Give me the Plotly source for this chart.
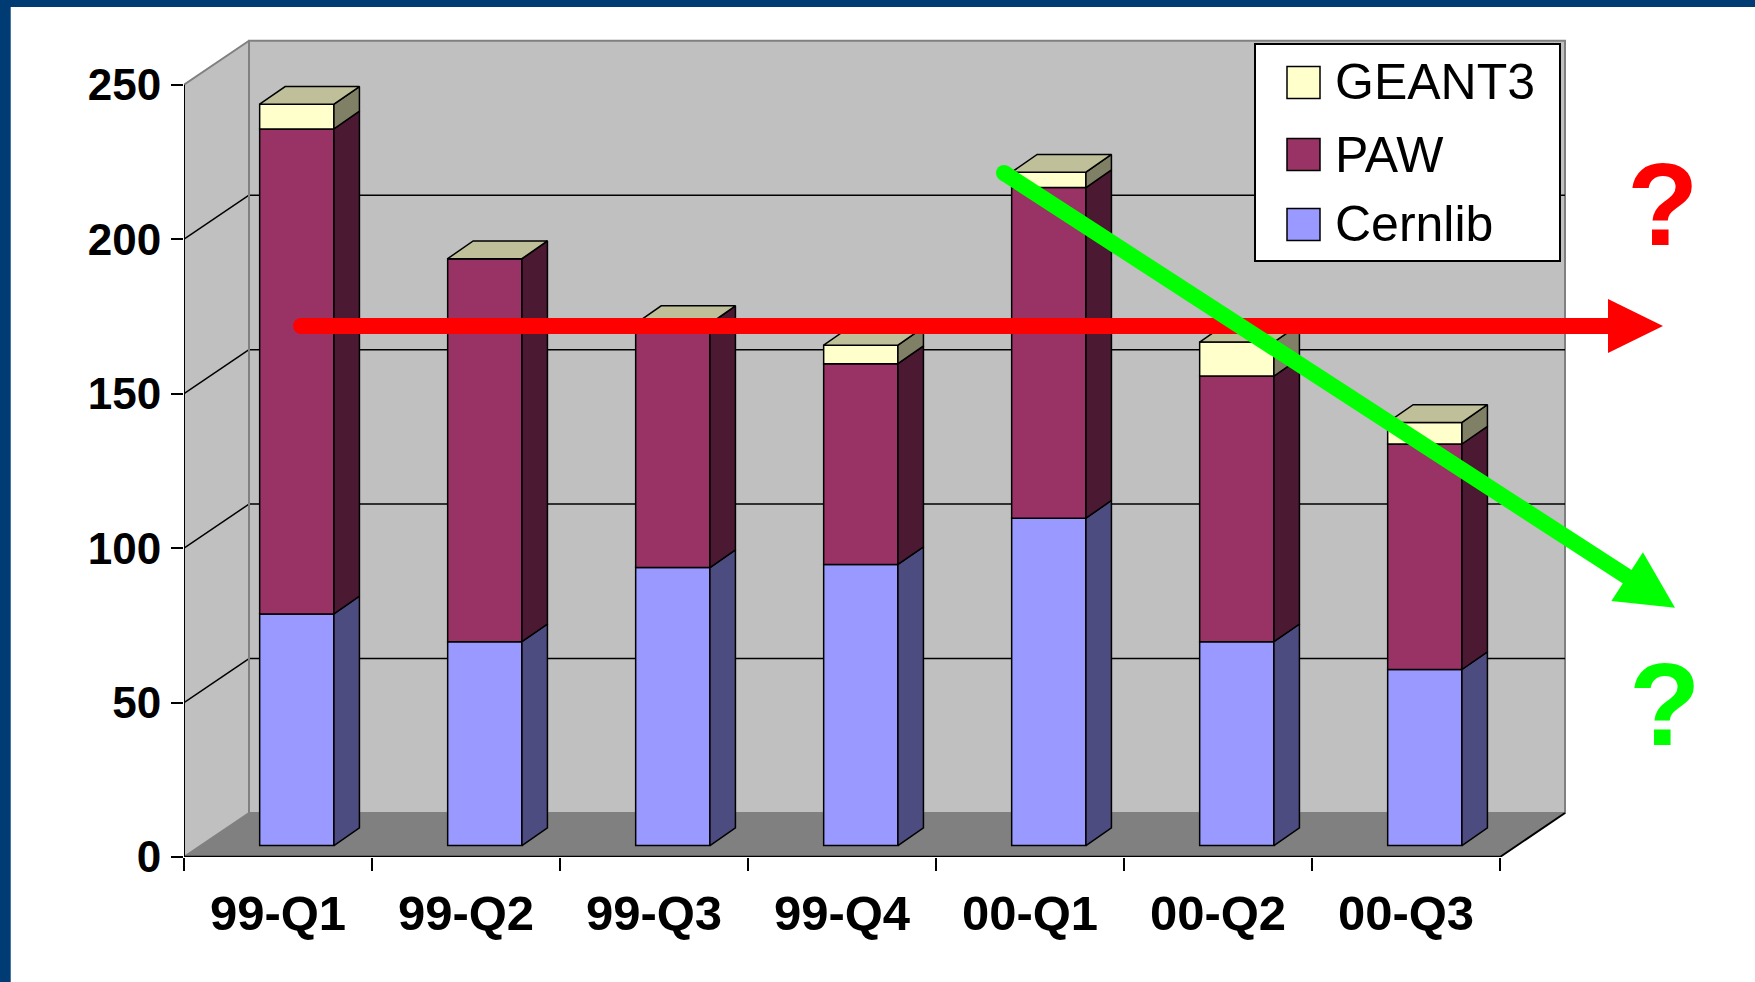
import plotly.graph_objects as go

# ---------------- data ----------------
categories = ["99-Q1", "99-Q2", "99-Q3", "99-Q4", "00-Q1", "00-Q2", "00-Q3"]
cernlib = [75, 66, 90, 91, 106, 66, 57]
paw = [157, 124, 79, 65, 107, 86, 73]
geant3 = [8, 0, 0, 6, 5, 11, 7]
series_names = ["Cernlib", "PAW", "GEANT3"]
y_ticks = [0, 50, 100, 150, 200, 250]

# ---------------- styles ----------------
front_col = {"Cernlib": "#9999FF", "PAW": "#993366", "GEANT3": "#FFFFCC"}
side_col = {"Cernlib": "#4C4C80", "PAW": "#4C1933", "GEANT3": "#808066"}
top_col = "#BFBF99"
wall_col = "#C0C0C0"
floor_col = "#808080"
edge_col = "#808080"
border_blue = "#003B73"
FONT = "Liberation Sans"

W, H = 1755, 982
ML, MT = 184, 30
PW, PH = 1391, 827
MR = W - ML - PW
MB = H - MT - PH
PX_CAT = 188.0     # pixels per category
PX_UNIT = 3.089    # pixels per value unit
xr = [-0.5, -0.5 + PW / PX_CAT]
yr = [0, PH / PX_UNIT]

DX = 65 / PX_CAT        # wall depth (category units)
DY = 44 / PX_UNIT       # wall depth (value units)
BAR_SHIFT = 0.10        # bar front offset into depth
BAR_BASE = 3.7
BW = 0.395
DDX = 25.5 / PX_CAT     # bar depth
DDY = 17.7 / PX_UNIT


def px_x(p):
    return (p - ML) / PW


def px_y(p):
    return (MT + PH - p) / PH


values = {"Cernlib": cernlib, "PAW": paw, "GEANT3": geant3}
n = len(categories)
xpos = [i + BAR_SHIFT for i in range(n)]

fig = go.Figure()

# front faces (stacked with explicit bases)
cum = [BAR_BASE] * n
bases = {}
for s in series_names:
    bases[s] = list(cum)
    fig.add_trace(go.Bar(
        x=xpos, y=values[s], base=list(cum), width=BW, name=s,
        marker=dict(color=front_col[s], line=dict(color="black", width=1.5)),
        showlegend=False, hoverinfo="skip"))
    cum = [c + v for c, v in zip(cum, values[s])]

# side faces
for s in series_names:
    xs, ys = [], []
    for i in range(n):
        b = bases[s][i]
        t = b + values[s][i]
        xright = xpos[i] + BW / 2
        xs += [xright, xright + DDX, xright + DDX, xright, xright, None]
        ys += [b, b + DDY, t + DDY, t, b, None]
    fig.add_trace(go.Scatter(
        x=xs, y=ys, mode="lines", fill="toself", fillcolor=side_col[s],
        line=dict(color="black", width=1.5), showlegend=False, hoverinfo="skip"))

# top faces
xs, ys = [], []
for i in range(n):
    T = cum[i]
    xl = xpos[i] - BW / 2
    xrr = xpos[i] + BW / 2
    xs += [xl, xl + DDX, xrr + DDX, xrr, xl, None]
    ys += [T, T + DDY, T + DDY, T, T, None]
fig.add_trace(go.Scatter(
    x=xs, y=ys, mode="lines", fill="toself", fillcolor=top_col,
    line=dict(color="black", width=1.5), showlegend=False, hoverinfo="skip"))

# ---------------- walls, floor, gridlines ----------------
x_left = -0.5
x_right = n - 0.5
ymax = y_ticks[-1]
shapes = []
# left wall
shapes.append(dict(type="path", xref="x", yref="y", layer="below",
                   path=f"M {x_left},0 L {x_left+DX},{DY} L {x_left+DX},{ymax+DY} L {x_left},{ymax} Z",
                   fillcolor=wall_col, line=dict(width=0)))
# back wall
shapes.append(dict(type="rect", xref="x", yref="y", layer="below",
                   x0=x_left + DX, x1=x_right + DX, y0=DY, y1=ymax + DY,
                   fillcolor=wall_col, line=dict(color=edge_col, width=2)))
# floor
shapes.append(dict(type="path", xref="x", yref="y", layer="below",
                   path=f"M {x_left},0 L {x_right},0 L {x_right+DX},{DY} L {x_left+DX},{DY} Z",
                   fillcolor=floor_col, line=dict(width=0)))
# gridlines
for v in y_ticks[1:-1]:
    shapes.append(dict(type="line", xref="x", yref="y", layer="below",
                       x0=x_left + DX, x1=x_right + DX, y0=v + DY, y1=v + DY,
                       line=dict(color="black", width=1.5)))
    shapes.append(dict(type="line", xref="x", yref="y", layer="below",
                       x0=x_left, x1=x_left + DX, y0=v, y1=v + DY,
                       line=dict(color="black", width=1.5)))
# wall edges
for v in (0, ymax):
    shapes.append(dict(type="line", xref="x", yref="y", layer="below",
                       x0=x_left, x1=x_left + DX, y0=v, y1=v + DY,
                       line=dict(color=edge_col, width=2)))
shapes.append(dict(type="line", xref="x", yref="y", layer="below",
                   x0=x_left + DX, x1=x_left + DX, y0=DY, y1=ymax + DY,
                   line=dict(color=edge_col, width=2)))
shapes.append(dict(type="line", xref="x", yref="y", layer="below",
                   x0=x_left + DX, x1=x_right + DX, y0=DY, y1=DY,
                   line=dict(color=edge_col, width=2)))
# front axis lines
shapes.append(dict(type="line", xref="x", yref="y", layer="above",
                   x0=x_left, x1=x_left, y0=0, y1=ymax, line=dict(color="black", width=2)))
shapes.append(dict(type="line", xref="x", yref="y", layer="above",
                   x0=x_left, x1=x_right, y0=0, y1=0, line=dict(color="black", width=2.5)))
shapes.append(dict(type="line", xref="x", yref="y", layer="above",
                   x0=x_right, x1=x_right + DX, y0=0, y1=DY, line=dict(color="black", width=2)))

# ---------------- border ----------------
shapes.append(dict(type="rect", xref="paper", yref="paper", layer="above",
                   x0=px_x(-5), x1=px_x(W + 5), y0=px_y(7), y1=px_y(-5),
                   fillcolor=border_blue, line=dict(width=0)))
shapes.append(dict(type="rect", xref="paper", yref="paper", layer="above",
                   x0=px_x(-5), x1=px_x(10.7), y0=px_y(H + 5), y1=px_y(-5),
                   fillcolor=border_blue, line=dict(width=0)))

# ---------------- custom legend ----------------
annotations = []
shapes.append(dict(type="rect", xref="paper", yref="paper", layer="above",
                   x0=px_x(1255), x1=px_x(1560), y0=px_y(261), y1=px_y(44),
                   fillcolor="white", line=dict(color="black", width=2)))
legend_rows = [("GEANT3", 82.5), ("PAW", 154.5), ("Cernlib", 224.5)]
for name, yc in legend_rows:
    shapes.append(dict(type="rect", xref="paper", yref="paper", layer="above",
                       x0=px_x(1287), x1=px_x(1320), y0=px_y(yc + 16), y1=px_y(yc - 16),
                       fillcolor=front_col[name], line=dict(color="black", width=1.5)))
    annotations.append(dict(xref="paper", yref="paper", x=px_x(1333), y=px_y(yc),
                            xanchor="left", yanchor="middle", showarrow=False, text=name,
                            font=dict(family=FONT, size=50, color="black")))

# ---------------- arrows ----------------
def arrow(x_start, y_start, x_tip, y_tip, head_len, head_half, color):
    dx, dy = x_tip - x_start, y_tip - y_start
    L = (dx * dx + dy * dy) ** 0.5
    ux, uy = dx / L, dy / L
    nx, ny = -uy, ux
    bx, by = x_tip - head_len * ux, y_tip - head_len * uy
    out = []
    out.append(dict(type="line", xref="paper", yref="paper", layer="above",
                    x0=px_x(x_start), y0=px_y(y_start), x1=px_x(bx + 2 * ux), y1=px_y(by + 2 * uy),
                    line=dict(color=color, width=16)))
    out.append(dict(type="circle", xref="paper", yref="paper", layer="above",
                    x0=px_x(x_start - 8), x1=px_x(x_start + 8), y0=px_y(y_start + 8), y1=px_y(y_start - 8),
                    fillcolor=color, line=dict(width=0)))
    p1 = (bx + head_half * nx, by + head_half * ny)
    p2 = (bx - head_half * nx, by - head_half * ny)
    path = (f"M {px_x(p1[0])},{px_y(p1[1])} L {px_x(x_tip)},{px_y(y_tip)} "
            f"L {px_x(p2[0])},{px_y(p2[1])} Z")
    out.append(dict(type="path", xref="paper", yref="paper", layer="above", path=path,
                    fillcolor=color, line=dict(width=0)))
    return out

shapes += arrow(301, 326, 1663, 326, 55, 27, "#FF0000")
shapes += arrow(1004, 173, 1675, 607.7, 57, 29, "#00FF00")

annotations.append(dict(xref="paper", yref="paper", x=px_x(1662), y=px_y(204.5),
                        xanchor="center", yanchor="middle", showarrow=False, text="?",
                        font=dict(family=FONT, size=117, color="#FF0000", weight="bold")))
annotations.append(dict(xref="paper", yref="paper", x=px_x(1664), y=px_y(704.7),
                        xanchor="center", yanchor="middle", showarrow=False, text="?",
                        font=dict(family=FONT, size=117, color="#00FF00", weight="bold")))

fig.update_layout(
    width=W, height=H,
    margin=dict(l=ML, r=MR, t=MT, b=MB, autoexpand=False),
    paper_bgcolor="white", plot_bgcolor="rgba(0,0,0,0)",
    barmode="overlay", showlegend=False,
    shapes=shapes, annotations=annotations,
    xaxis=dict(range=xr, tickmode="array", tickvals=list(range(n)), ticktext=categories,
               ticks="", showgrid=False, zeroline=False, showline=False,
               tickfont=dict(family=FONT, size=49, color="black", weight="bold"),
               ticklabelstandoff=23,
               minor=dict(tickmode="linear", tick0=-0.5, dtick=1, ticks="outside",
                          ticklen=13, tickwidth=2, tickcolor="black", showgrid=False)),
    yaxis=dict(range=yr, tickmode="array", tickvals=y_ticks,
               ticks="outside", ticklen=12, tickwidth=2, tickcolor="black",
               showgrid=False, zeroline=False, showline=False,
               tickfont=dict(family=FONT, size=44, color="black", weight="bold"),
               ticklabelstandoff=1),
)

fig.write_html("out.html", config={"displayModeBar": False},
               post_script="document.body.style.margin='0';document.body.style.overflow='hidden';")
